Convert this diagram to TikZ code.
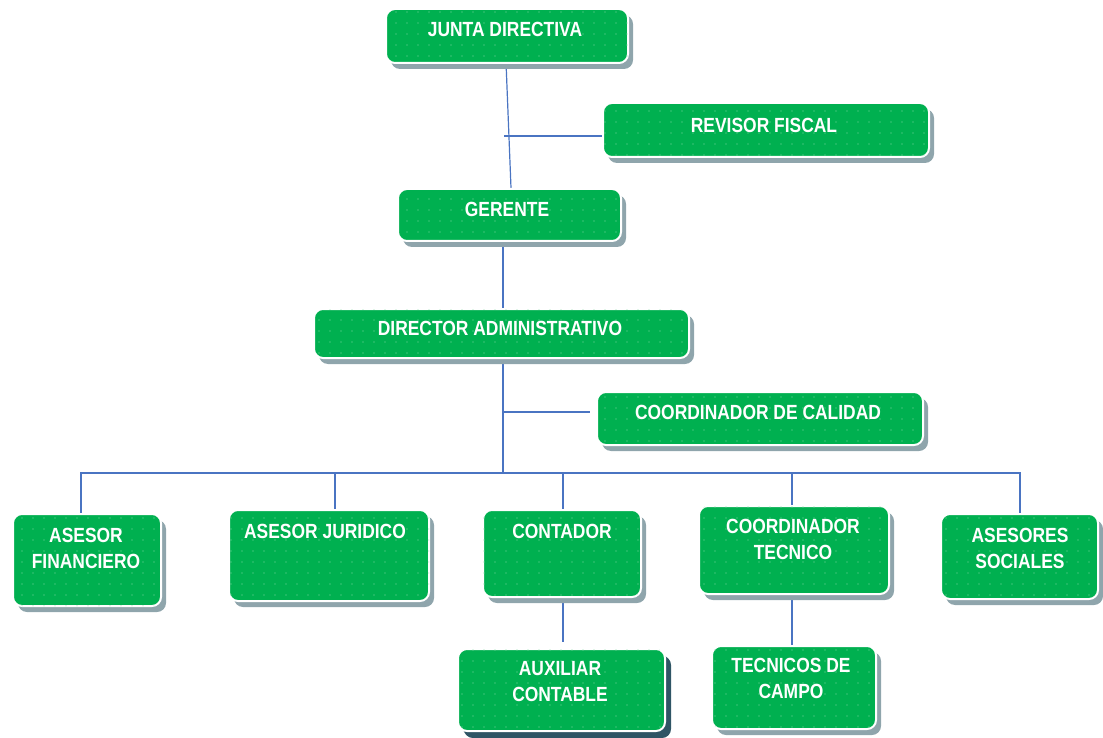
\documentclass[tikz,border=0pt]{standalone}
\usepackage{fontspec}
\newfontfamily\boxfont{Liberation Sans}[FakeStretch=0.85]
\usetikzlibrary{shadows,patterns.meta}
\definecolor{grn}{HTML}{00B050}
\definecolor{dotc}{HTML}{7FD9A3}
\definecolor{shd}{HTML}{8FA5AC}
\definecolor{shddark}{HTML}{2F5565}
\definecolor{lnc}{HTML}{4A74C2}
\tikzdeclarepattern{name=sparsedots, type=uncolored,
  bounding box={(-5.5pt,-5.5pt) and (5.5pt,5.5pt)},
  tile size={(11pt,11pt)},
  code={\fill (0pt,0pt) circle (0.55pt);}}
\tikzset{
  orgbox/.style={draw=white, line width=2pt, fill=grn, rounded corners=9pt,
    inner sep=0pt, anchor=north west,
    drop shadow={shadow xshift=5pt, shadow yshift=-6pt, fill=shd, opacity=1},
    postaction={pattern=sparsedots, pattern color=dotc}},
  darkbox/.style={orgbox, drop shadow={shadow xshift=6pt, shadow yshift=-7pt, fill=shddark, opacity=1}},
  boxtext/.style={text=white, font=\boxfont\bfseries\fontsize{20.5}{26}\selectfont, align=center, inner sep=0pt},
  conn/.style={draw=lnc, line width=1.2pt}
}
\newcommand{\orgnode}[6]{% name, x, y, w, h, style
  \node[#6, minimum width=#4pt, minimum height=#5pt] (#1) at (#2,#3) {};}
\begin{document}
\begin{tikzpicture}[x=1pt,y=-1pt]
\useasboundingbox (0,0) rectangle (1103,738);
% connectors first (behind boxes)
\coordinate (jdb) at (506,62);
\coordinate (gnt) at (511,188);
\coordinate (rvj) at (504,136);
\coordinate (gb) at (503,240);
\coordinate (dat) at (503,308);
\coordinate (dab) at (503,357);
\coordinate (ccj) at (503,412);
\coordinate (bus) at (503,473);
\coordinate (busL) at (81,473);
\coordinate (busR) at (1020,473);
\coordinate (b1) at (81,513);
\coordinate (b2) at (335,509);
\coordinate (b3) at (563,509);
\coordinate (b4) at (792,505);
\coordinate (b5) at (1020,513);
\coordinate (cob) at (563,596);
\coordinate (axt) at (563,642);
\coordinate (ctb) at (792,593);
\coordinate (tct) at (792,645);
\coordinate (rvw) at (602,136);
\coordinate (ccw) at (590,412);
\coordinate (j2) at (335,473);
\coordinate (j3) at (563,473);
\coordinate (j4) at (792,473);

\draw[conn] (jdb) -- (gnt);
\draw[conn] (rvj) -- (rvw);
\draw[conn] (gb) -- (dat);
\draw[conn] (dab) -- (bus);
\draw[conn] (ccj) -- (ccw);
\draw[conn] (b1) -- (busL) -- (busR) -- (b5);
\draw[conn] (j2) -- (b2);
\draw[conn] (j3) -- (b3);
\draw[conn] (j4) -- (b4);
\draw[conn] (cob) -- (axt);
\draw[conn] (ctb) -- (tct);

% boxes
\orgnode{jd}{385}{8}{242}{54}{orgbox}
\orgnode{rv}{602}{102}{326}{54}{orgbox}
\orgnode{ge}{397}{188}{223}{52}{orgbox}
\orgnode{da}{313}{308}{375}{49}{orgbox}
\orgnode{cc}{596}{391}{326}{53}{orgbox}
\orgnode{af}{12}{513}{148}{92}{orgbox}
\orgnode{aj}{228}{509}{200}{91}{orgbox}
\orgnode{co}{482}{509}{158}{87}{orgbox}
\orgnode{ct}{698}{505}{190}{88}{orgbox}
\orgnode{as}{940}{513}{157}{85}{orgbox}
\orgnode{ax}{457}{648}{207}{82}{darkbox}
\orgnode{tc}{711}{645}{164}{83}{orgbox}

% texts
\node[boxtext] (jdt) at (505,29) {JUNTA DIRECTIVA};
\node[boxtext] (rvt) at (764,125) {REVISOR FISCAL};
\node[boxtext] (get) at (507,209) {GERENTE};
\node[boxtext] (dat2) at (500,328) {DIRECTOR ADMINISTRATIVO};
\node[boxtext] (cct) at (758,412) {COORDINADOR DE CALIDAD};
\node[boxtext] (aft) at (86,548.5) {ASESOR\\FINANCIERO};
\node[boxtext] (ajt) at (325,531) {ASESOR JURIDICO};
\node[boxtext] (cot) at (562,531) {CONTADOR};
\node[boxtext] (ctt) at (793,539.5) {COORDINADOR\\TECNICO};
\node[boxtext] (ast) at (1020,548.5) {ASESORES\\SOCIALES};
\node[boxtext] (axt2) at (560,681.5) {AUXILIAR\\CONTABLE};
\node[boxtext] (tct2) at (791,678.5) {TECNICOS DE\\CAMPO};
\end{tikzpicture}
\end{document}
